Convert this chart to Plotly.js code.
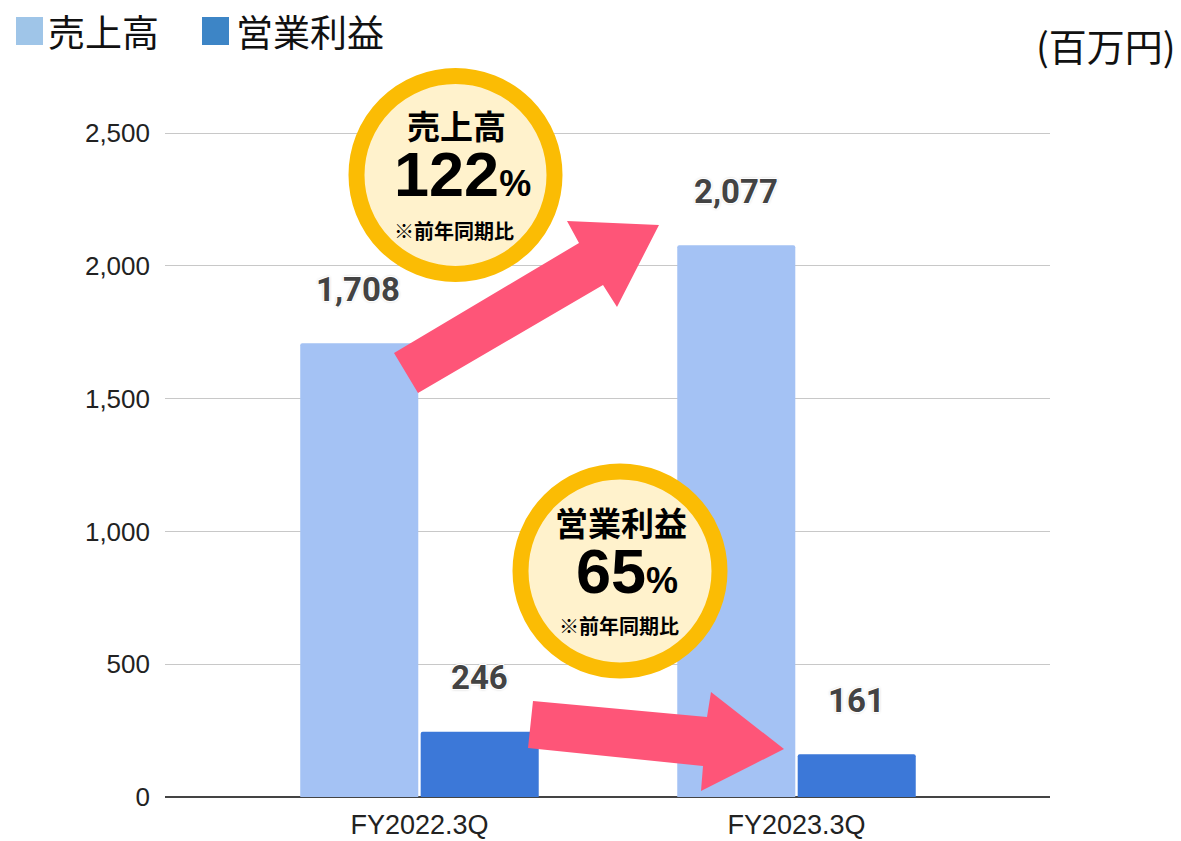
<!DOCTYPE html>
<html>
<head>
<meta charset="utf-8">
<script src="https://cdn.plot.ly/plotly-3.0.1.min.js"></script>
<style>html,body{margin:0;padding:0;background:#fff;}#chart{width:1181px;height:841px;}</style>
</head>
<body>
<div id="chart"></div>
<script>
// ---- data ----
const categories = ["FY2022.3Q", "FY2023.3Q"];
const seriesNames = ["売上高", "営業利益"];
const sales = [1708, 2077];
const opProfit = [246, 161];
const yTicks = [0, 500, 1000, 1500, 2000, 2500];
const unitLabel = "(百万円)";
const salesRatio = "122";
const profitRatio = "65";
const ratioNote = "※前年同期比";

// ---- layout geometry (pixels) ----
const W = 1181, H = 841;
const mL = 165, mR = 131, mT = 0, mB = 44;
const plotW = W - mL - mR, plotH = H - mT - mB;
// helper: pixel -> paper coords (decorations only)
const px = x => (x - mL) / plotW;
const py = y => (H - mB - y) / plotH;
const path = pts => pts.map((p, i) => (i ? 'L' : 'M') + px(p[0]).toFixed(5) + ',' + py(p[1]).toFixed(5)).join(' ') + ' Z';

const lightBlue = '#a4c2f4', darkBlue = '#3c78d8';
const pink = '#fe5578', ringCol = '#fbbc04', cream = '#fff2cc';
const cjk = '"Noto Sans CJK JP", "Noto Sans", sans-serif';
const arial = '"Liberation Sans", Arial, sans-serif';

const traces = [
  {type: 'bar', name: seriesNames[0], x: categories, y: sales, marker: {color: lightBlue, cornerradius: 2}, hoverinfo: 'none'},
  {type: 'bar', name: seriesNames[1], x: categories, y: opProfit, marker: {color: darkBlue, cornerradius: 2}, hoverinfo: 'none'}
];

const halo = '-1px -1px 0 #fff, 1px -1px 0 #fff, -1px 1px 0 #fff, 1px 1px 0 #fff, 0 0 3px #999';
const annotations = [];
// value labels
categories.forEach((c, i) => {
  annotations.push({x: c, y: sales[i], xref: 'x', yref: 'y', xshift: -61, yshift: 54, yanchor: 'middle',
    text: sales[i].toLocaleString('en-US'), showarrow: false,
    font: {family: 'Roboto, sans-serif', size: 33, color: '#434343', weight: 700, shadow: halo}});
  annotations.push({x: c, y: opProfit[i], xref: 'x', yref: 'y', xshift: 60, yshift: 54, yanchor: 'middle',
    text: opProfit[i].toLocaleString('en-US'), showarrow: false,
    font: {family: 'Roboto, sans-serif', size: 33, color: '#434343', weight: 700, shadow: halo}});
});

// legend (manual)
annotations.push({xref: 'paper', yref: 'paper', x: px(46), y: py(31), xanchor: 'left', yanchor: 'middle', showarrow: false,
  text: seriesNames[0], font: {family: cjk, size: 37, color: '#111'}});
annotations.push({xref: 'paper', yref: 'paper', x: px(234), y: py(31), xanchor: 'left', yanchor: 'middle', showarrow: false,
  text: seriesNames[1], font: {family: cjk, size: 37, color: '#111'}});
annotations.push({xref: 'paper', yref: 'paper', x: px(1178), y: py(44), xanchor: 'right', yanchor: 'middle', showarrow: false,
  text: unitLabel, font: {family: cjk, size: 38, color: '#111'}});

// circle texts
function circleText(cx, y1, y2, y3, title, ratio) {
  annotations.push({xref: 'paper', yref: 'paper', x: px(cx), y: py(y1), xanchor: 'center', yanchor: 'middle', showarrow: false,
    height: 40, text: '<b>' + title + '</b>', font: {family: cjk, size: 33, color: '#000'}});
  annotations.push({xref: 'paper', yref: 'paper', x: px(cx + 6), y: py(y2), xanchor: 'center', yanchor: 'middle', showarrow: false,
    height: 56, text: '<b>' + ratio + '<span style="font-size:36px">%</span></b>', font: {family: arial, size: 63, color: '#000'}});
  annotations.push({xref: 'paper', yref: 'paper', x: px(cx - 2), y: py(y3), xanchor: 'center', yanchor: 'middle', showarrow: false,
    text: '<b>' + ratioNote + '</b>', font: {family: cjk, size: 20, color: '#000'}});
}
circleText(456, 125, 174, 230, seriesNames[0], salesRatio);
circleText(621, 522, 571, 625, seriesNames[1], profitRatio);

const shapes = [
  // legend squares
  {type: 'rect', xref: 'paper', yref: 'paper', x0: px(16), x1: px(43), y0: py(45), y1: py(17), fillcolor: '#9fc5e8', line: {width: 0}},
  {type: 'rect', xref: 'paper', yref: 'paper', x0: px(202), x1: px(229), y0: py(45), y1: py(17), fillcolor: '#3d85c6', line: {width: 0}},
  // arrows
  {type: 'path', xref: 'paper', yref: 'paper', layer: 'above', fillcolor: pink, line: {width: 0},
   path: path([[394,353],[579,243],[567,221],[659,225],[617,307],[603,285],[418,393]])},
  {type: 'path', xref: 'paper', yref: 'paper', layer: 'above', fillcolor: pink, line: {width: 0},
   path: path([[533,701],[707,717],[711,692],[784,749],[701,791],[703,766],[528,748]])},
  // circles
  {type: 'circle', xref: 'paper', yref: 'paper', layer: 'above', xsizemode: 'pixel', ysizemode: 'pixel',
   xanchor: px(455.5), yanchor: py(175), x0: -99, x1: 99, y0: -99, y1: 99,
   fillcolor: cream, line: {color: ringCol, width: 16}},
  {type: 'circle', xref: 'paper', yref: 'paper', layer: 'above', xsizemode: 'pixel', ysizemode: 'pixel',
   xanchor: px(620), yanchor: py(571), x0: -99.5, x1: 99.5, y0: -99.5, y1: 99.5,
   fillcolor: cream, line: {color: ringCol, width: 16}}
];

const layout = {
  width: W, height: H,
  margin: {l: mL, r: mR, t: mT, b: mB, pad: 0},
  paper_bgcolor: '#fff', plot_bgcolor: '#fff',
  showlegend: false,
  barmode: 'group', bargap: 0.361, bargroupgap: 0.02,
  separators: '.,',
  xaxis: {type: 'category', range: [-0.675, 1.6724], showgrid: false, zeroline: false, showline: false, ticks: '',
    tickfont: {family: arial, size: 27, color: '#222'}, ticklabelstandoff: 9, fixedrange: true},
  yaxis: {range: [0, (H - mB - mT) / (664 / 2500)], tickvals: yTicks, tickformat: ',d', showgrid: true, gridcolor: '#c8c8c8', gridwidth: 1,
    zeroline: true, zerolinecolor: '#444', zerolinewidth: 1.5, showline: false, ticks: '',
    tickfont: {family: arial, size: 26, color: '#222'}, ticklabelstandoff: 14, fixedrange: true},
  annotations: annotations,
  shapes: shapes
};

Plotly.newPlot('chart', traces, layout, {displayModeBar: false, staticPlot: true});
</script>
</body>
</html>
